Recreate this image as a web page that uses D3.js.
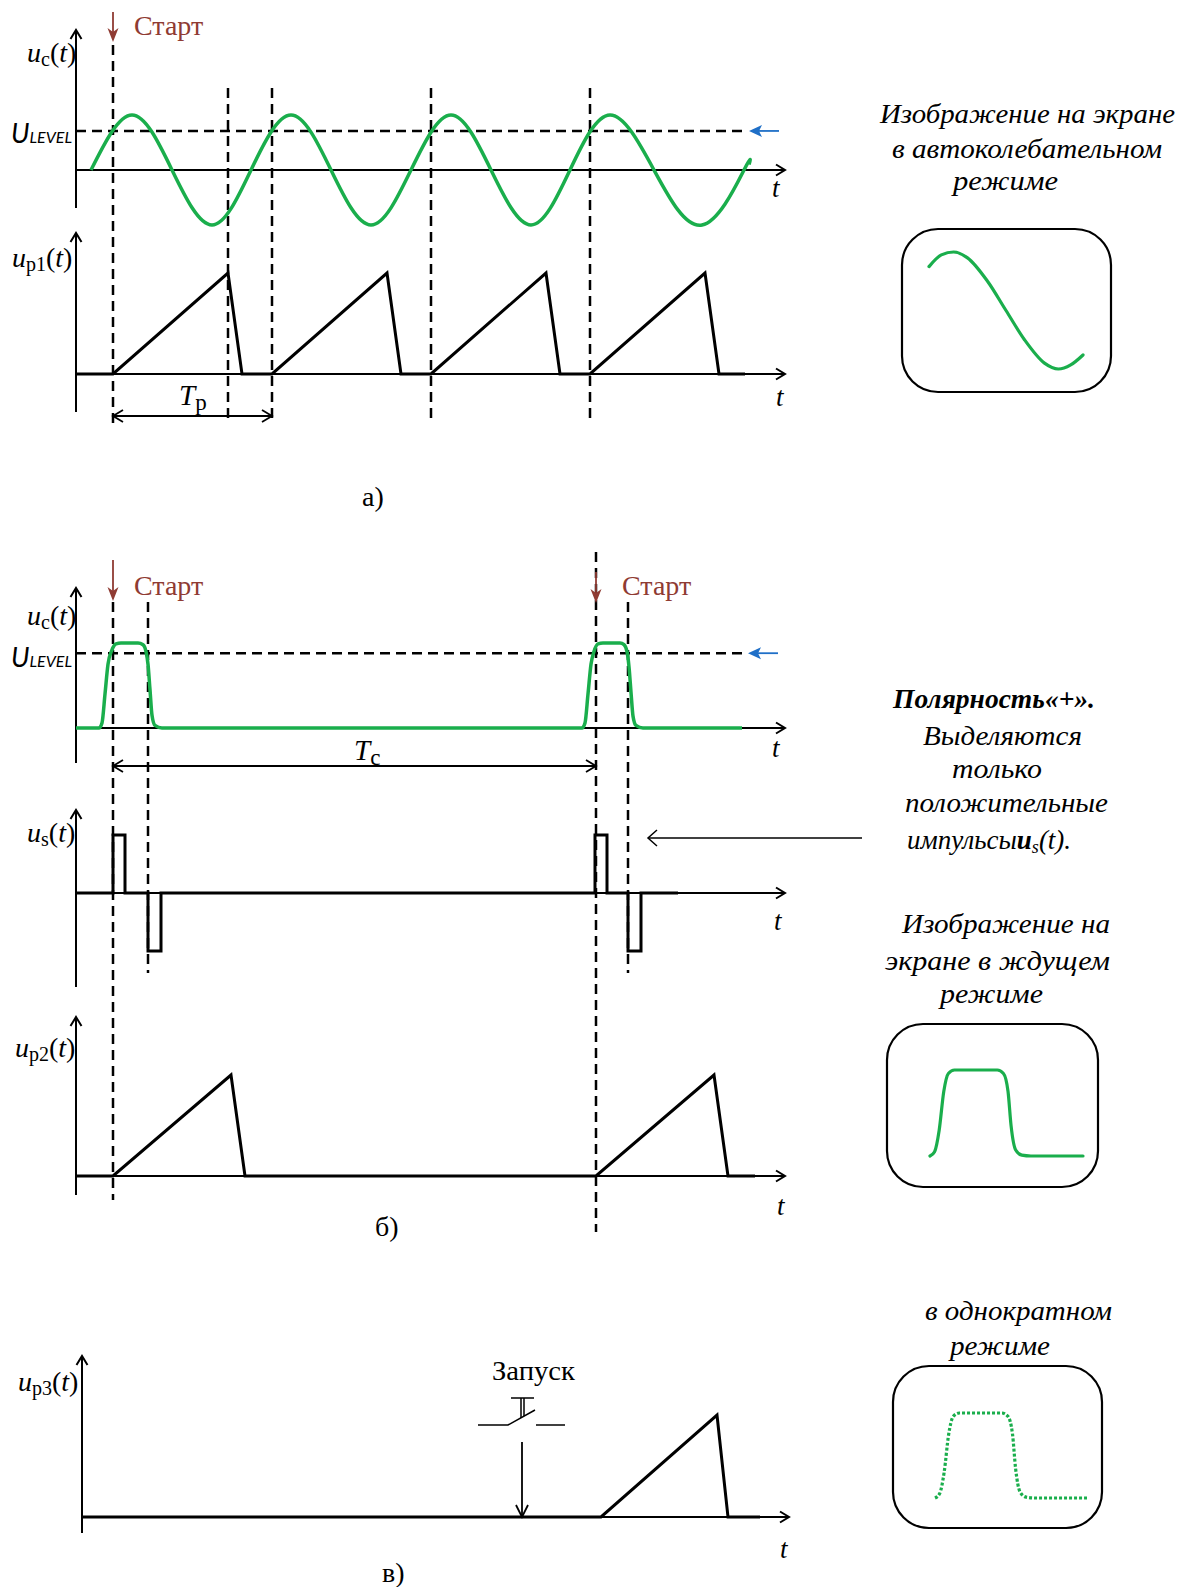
<!DOCTYPE html>
<html>
<head>
<meta charset="utf-8">
<script src="https://cdn.jsdelivr.net/npm/d3@7"></script>
<style>
  body { margin: 0; background: #fff; }
  svg { display: block; }
  text { font-family: "Liberation Serif", "Times New Roman", serif; fill: #000; }
</style>
</head>
<body>
<svg id="chart" width="1195" height="1587"></svg>
<script>

// a) free-running mode
const sineA = [[15,0],[56,1],[96,0],[136,-1],[175,0],[215,1],[255,0],[295,-1],[335,0],
               [375,1],[415,0],[455,-1],[494,0],[534,1],[578,0],[626,-1],[668,0],[673,0.1]];
const levelA = 0.71;
const sawA = [[0,0],[37,0],[152,1],[166,0],[196,0],[311,1],[325,0],[355,0],[470,1],[484,0],
              [514,0],[629,1],[643,0],[669,0]];
const cursorsA = [37, 152, 196, 355, 514];
const periodTp = [37, 196];

// б) triggered mode
const pulseB = [[0,0],[23,0],[26,0.06],[29,0.4],[32,0.75],[36,0.92],[40,0.99],[45,1],[62,1],
                [67,0.98],[70,0.9],[72,0.75],[74,0.45],[76,0.15],[79,0.03],[86,0],
                [506,0],[509,0.06],[512,0.4],[515,0.75],[518,0.9],[522,0.99],[527,1],[544,1],
                [548,0.98],[551,0.9],[553,0.72],[555,0.42],[557,0.14],[560,0.03],[567,0],[666,0]];
const levelB = 0.88;
const startsB = [37, 520];
const syncB = [[0,0],[37,0],[37,1],[49,1],[49,0],[72,0],[72,-1],[85,-1],[85,0],
               [519,0],[519,1],[531,1],[531,0],[552,0],[552,-1],[565,-1],[565,0],[602,0]];
const sawB = [[0,0],[37,0],[155,1],[169,0],[520,0],[638,1],[652,0],[679,0]];
const periodTc = [37, 520];

// в) single-shot mode
const sawC = [[6,0],[525,0],[641,1],[652,0],[684,0]];
const launchAt = 446;

// screen traces (0..100 across the trace)
const screenSine = [[0,0.75],[8,0.95],[16,1],[25,0.9],[38,0.5],[50,0],[62,-0.5],[75,-0.9],
                    [84,-1],[92,-0.93],[100,-0.76]];
const screenPulse = [[0,0],[3,0.05],[6,0.3],[9,0.75],[12,0.96],[16,1],[44,1],[48,0.96],
                     [51,0.75],[53,0.35],[56,0.07],[60,0.01],[66,0],[100,0]];

// text
const textA = ["Изображение на экране", "в автоколебательном", "режиме"];
const textB1 = ["Выделяются", "только", "положительные"];
const textB2 = ["Изображение на", "экране  в ждущем", "режиме"];
const textC = ["в однократном", "режиме"];

// ---- drawing ----
const svg = d3.select("#chart");
const GREEN = "#1aae4c", BROWN = "#8f3b33", BLUE = "#1f6fc7";

const x = d3.scaleLinear().domain([0, 710]).range([76, 786]);

const line = (xs, ys, curve) => d3.line().x(d => xs(d[0])).y(d => ys(d[1])).curve(curve || d3.curveLinear);

function chevron(tx, ty, dir, len = 9, half = 5.5, w = 2) {
  let p;
  if (dir === "up") p = [[tx - half, ty + len], [tx, ty], [tx + half, ty + len]];
  if (dir === "down") p = [[tx - half, ty - len], [tx, ty], [tx + half, ty - len]];
  if (dir === "right") p = [[tx - len, ty - half], [tx, ty], [tx - len, ty + half]];
  if (dir === "left") p = [[tx + len, ty - half], [tx, ty], [tx + len, ty + half]];
  svg.append("path").attr("d", d3.line()(p)).attr("fill", "none")
    .attr("stroke", "#000").attr("stroke-width", w);
}

function axes(y0, top, bottom, xEnd) {
  const ax = x(0);
  svg.append("line").attr("x1", ax).attr("x2", ax).attr("y1", top).attr("y2", bottom)
    .attr("stroke", "#000").attr("stroke-width", 2);
  chevron(ax, top, "up");
  svg.append("line").attr("x1", ax).attr("x2", xEnd).attr("y1", y0).attr("y2", y0)
    .attr("stroke", "#000").attr("stroke-width", 2);
  chevron(xEnd, y0, "right");
}

function dashed(t, y1, y2) {
  svg.append("line").attr("x1", x(t)).attr("x2", x(t)).attr("y1", y1).attr("y2", y2)
    .attr("stroke", "#000").attr("stroke-width", 2.5).attr("stroke-dasharray", "10 6");
}

function levelLine(y, xEnd) {
  svg.append("line").attr("x1", x(0)).attr("x2", xEnd).attr("y1", y).attr("y2", y)
    .attr("stroke", "#000").attr("stroke-width", 2.5).attr("stroke-dasharray", "10 6");
}

function blueArrow(tip, y) {
  svg.append("line").attr("x1", tip + 8).attr("x2", tip + 30).attr("y1", y).attr("y2", y)
    .attr("stroke", BLUE).attr("stroke-width", 1.8);
  svg.append("path").attr("d", `M${tip},${y} L${tip + 13},${y - 6} L${tip + 10},${y} L${tip + 13},${y + 6} Z`)
    .attr("fill", BLUE);
}

function start(t, y1, y2, tx, ty) {
  const cx = x(t);
  svg.append("line").attr("x1", cx).attr("x2", cx).attr("y1", y1).attr("y2", y2 - 8)
    .attr("stroke", BROWN).attr("stroke-width", 1.8);
  svg.append("path").attr("d", `M${cx - 5.5},${y2 - 14} L${cx},${y2} L${cx + 5.5},${y2 - 14} L${cx},${y2 - 10} Z`)
    .attr("fill", BROWN);
  svg.append("text").attr("x", tx).attr("y", ty).attr("font-size", 28)
    .style("fill", BROWN).text("Старт");
}

function varLabel(xp, yp, sub) {
  const t = svg.append("text").attr("x", xp).attr("y", yp).attr("font-size", 28);
  t.append("tspan").attr("font-style", "italic").text("u");
  t.append("tspan").attr("font-size", 20).attr("dy", 4).text(sub);
  t.append("tspan").attr("dy", -4).text("(");
  t.append("tspan").attr("font-style", "italic").text("t");
  t.append("tspan").text(")");
}

function ulevel(yp) {
  const t = svg.append("text").attr("x", 11).attr("y", yp)
    .style("font-family", "Lato, 'Open Sans', sans-serif").attr("font-style", "italic");
  t.append("tspan").attr("font-size", 27).text("U");
  t.append("tspan").attr("font-size", 16).text("LEVEL");
}

function tLabel(xp, yp) {
  svg.append("text").attr("x", xp).attr("y", yp).attr("font-size", 27)
    .attr("font-style", "italic").text("t");
}

function span(t1, t2, y, lx, ly, sub) {
  svg.append("line").attr("x1", x(t1)).attr("x2", x(t2)).attr("y1", y).attr("y2", y)
    .attr("stroke", "#000").attr("stroke-width", 1.8);
  chevron(x(t1), y, "left", 10, 6, 1.8);
  chevron(x(t2), y, "right", 10, 6, 1.8);
  const t = svg.append("text").attr("x", lx).attr("y", ly).attr("font-size", 29);
  t.append("tspan").attr("font-style", "italic").text("T");
  t.append("tspan").attr("font-size", 23).attr("dy", 5).text(sub);
}

function rightText(lines, specs, opts = {}) {
  lines.forEach((s, i) => {
    const [x0, y0, w] = specs[i];
    svg.append("text").attr("x", x0).attr("y", y0).attr("font-size", opts.size || 27)
      .attr("font-style", "italic").attr("font-weight", opts.bold ? "bold" : null)
      .attr("textLength", w).attr("lengthAdjust", "spacingAndGlyphs").text(s);
  });
}

function screen(x0, y0, w, h, pts, xr, yr, dotted, sx) {
  svg.append("rect").attr("x", x0).attr("y", y0).attr("width", w).attr("height", h)
    .attr("rx", 36).attr("fill", "none").attr("stroke", "#000").attr("stroke-width", 2.2);
  const xs = d3.scaleLinear().domain([0, 100]).range(xr);
  const ys = d3.scaleLinear().domain(sx).range(yr);
  svg.append("path").attr("d", line(xs, ys, d3.curveMonotoneX)(pts))
    .attr("fill", "none").attr("stroke", GREEN).attr("stroke-width", 3.2)
    .attr("stroke-linecap", dotted ? "butt" : "round")
    .attr("stroke-dasharray", dotted ? "3 2" : null);
}

// ================= a) =================
const yA1 = d3.scaleLinear().domain([-1, 1]).range([225, 115]);
const yA2 = d3.scaleLinear().domain([0, 1]).range([374, 273]);

axes(yA1(0), 30, 208, 785);
axes(yA2(0), 233, 412, 785);
cursorsA.forEach((t, i) => dashed(t, i === 0 ? 45 : 88, i === 0 ? 428 : 420));
levelLine(yA1(levelA), 742);
blueArrow(749, yA1(levelA));
svg.append("path").attr("d", line(x, yA1, d3.curveNatural)(sineA))
  .attr("fill", "none").attr("stroke", GREEN).attr("stroke-width", 3.5);
svg.append("path").attr("d", line(x, yA2)(sawA))
  .attr("fill", "none").attr("stroke", "#000").attr("stroke-width", 3).attr("stroke-linejoin", "miter");
start(cursorsA[0], 12, 42, 134, 35);
varLabel(27, 62, "c");
varLabel(12, 267, "p1");
ulevel(143);
tLabel(772, 197);
tLabel(776, 406);
span(periodTp[0], periodTp[1], 416, 179, 405, "p");
svg.append("text").attr("x", 362).attr("y", 506).attr("font-size", 28).text("а)");

rightText(textA, [[880, 123, 295], [892, 158, 270], [953, 190, 105]]);
screen(902, 229, 209, 163, screenSine, [929, 1083], [369, 252], false, [-1, 1]);

// ================= б) =================
const yB1 = d3.scaleLinear().domain([0, 1]).range([728, 643]);
const yB2 = d3.scaleLinear().domain([-1, 1]).range([951, 835]);
const yB3 = d3.scaleLinear().domain([0, 1]).range([1176, 1075]);

axes(yB1(0), 588, 763, 785);
axes(yB2(0), 810, 987, 785);
axes(yB3(0), 1017, 1195, 785);

dashed(37, 602, 1200);
dashed(72, 602, 973);
dashed(520, 552, 1232);
dashed(552, 602, 973);

levelLine(yB1(levelB), 745);
blueArrow(748, yB1(levelB));
svg.append("path").attr("d", line(x, yB1, d3.curveMonotoneX)(pulseB))
  .attr("fill", "none").attr("stroke", GREEN).attr("stroke-width", 3.5);
svg.append("path").attr("d", line(x, yB2)(syncB))
  .attr("fill", "none").attr("stroke", "#000").attr("stroke-width", 3).attr("stroke-linejoin", "miter");
svg.append("path").attr("d", line(x, yB3)(sawB))
  .attr("fill", "none").attr("stroke", "#000").attr("stroke-width", 3).attr("stroke-linejoin", "miter");

start(startsB[0], 560, 601, 134, 595);
start(startsB[1], 572, 603, 622, 595);
varLabel(27, 625, "c");
varLabel(27, 842, "s");
varLabel(15, 1057, "p2");
ulevel(667);
tLabel(772, 757);
tLabel(774, 930);
tLabel(777, 1215);
span(periodTc[0], periodTc[1], 766, 354, 760, "c");
svg.append("text").attr("x", 375).attr("y", 1236).attr("font-size", 28).text("б)");

// pointer to the positive pulses
svg.append("line").attr("x1", 648).attr("x2", 862).attr("y1", 838).attr("y2", 838)
  .attr("stroke", "#000").attr("stroke-width", 1.5);
chevron(648, 838, "left", 9, 8, 1.5);

rightText(["Полярность«+»."], [[893, 708, 202]], { bold: true });
rightText(textB1, [[923, 745, 159], [952, 778, 90], [905, 812, 203]]);
{
  const t = svg.append("text").attr("x", 907).attr("y", 849).attr("font-size", 27).attr("font-style", "italic");
  t.append("tspan").text("импульсы");
  t.append("tspan").attr("font-weight", "bold").text("u");
  t.append("tspan").attr("font-size", 18).attr("font-weight", "normal").attr("dy", 4).text("s");
  t.append("tspan").attr("dy", -4).text("(t).");
}
rightText(textB2, [[902, 933, 208], [885, 970, 225], [940, 1003, 103]]);
screen(887, 1024, 211, 163, screenPulse, [930, 1083], [1156, 1070], false, [0, 1]);

// ================= в) =================
const yC = d3.scaleLinear().domain([0, 1]).range([1517, 1415]);
{
  const ax = x(6);
  svg.append("line").attr("x1", ax).attr("x2", ax).attr("y1", 1356).attr("y2", 1533)
    .attr("stroke", "#000").attr("stroke-width", 2);
  chevron(ax, 1356, "up");
  svg.append("line").attr("x1", ax).attr("x2", 789).attr("y1", yC(0)).attr("y2", yC(0))
    .attr("stroke", "#000").attr("stroke-width", 2);
  chevron(789, yC(0), "right");
}
svg.append("path").attr("d", line(x, yC)(sawC))
  .attr("fill", "none").attr("stroke", "#000").attr("stroke-width", 3).attr("stroke-linejoin", "miter");
varLabel(18, 1391, "p3");
tLabel(780, 1558);
svg.append("text").attr("x", 382).attr("y", 1582).attr("font-size", 28).text("в)");

// launch push-button
{
  const bx = x(launchAt);
  svg.append("text").attr("x", 492).attr("y", 1380).attr("font-size", 27)
    .attr("textLength", 83).attr("lengthAdjust", "spacingAndGlyphs").text("Запуск");
  const g = svg.append("g").attr("stroke", "#000").attr("stroke-width", 1.5).attr("fill", "none");
  g.append("path").attr("d", `M${bx - 44},1425 H${bx - 14} L${bx + 13},1410`);
  g.append("path").attr("d", `M${bx + 14},1425 H${bx + 43}`);
  g.append("path").attr("d", `M${bx - 11},1398 H${bx + 12} M${bx - 1},1398 V1418 M${bx + 2},1398 V1416`);
  svg.append("line").attr("x1", bx).attr("x2", bx).attr("y1", 1442).attr("y2", yC(0))
    .attr("stroke", "#000").attr("stroke-width", 1.8);
  chevron(bx, yC(0), "down", 12, 6, 1.8);
}

rightText(textC, [[925, 1320, 187], [950, 1355, 100]]);
screen(893, 1366, 209, 162, screenPulse, [935, 1087], [1498, 1413], true, [0, 1]);
</script>
</body>
</html>
